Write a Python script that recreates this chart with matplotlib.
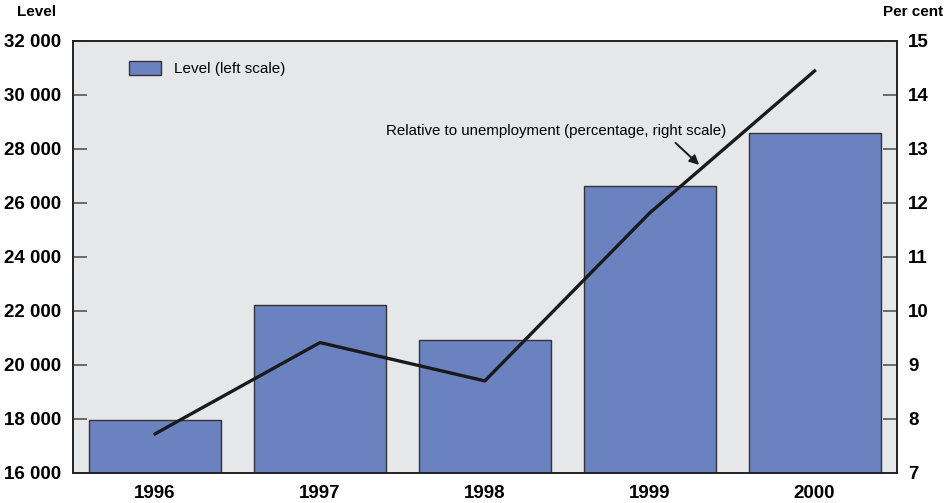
import matplotlib.pyplot as plt
from matplotlib import font_manager

years = ['1996', '1997', '1998', '1999', '2000']
level = [17950, 22200, 20930, 26620, 28590]
pct_unemployment = [7.72, 9.41, 8.70, 11.81, 14.44]

left_ticks = list(range(16000, 32001, 2000))
left_labels = ['{:,}'.format(v).replace(',', ' ') for v in left_ticks]
right_ticks = list(range(7, 16))

# narrow face for tick labels if available
names = {f.name for f in font_manager.fontManager.ttflist}
narrow = 'Liberation Sans Narrow' if 'Liberation Sans Narrow' in names else 'Liberation Sans'
plt.rcParams['font.family'] = 'Liberation Sans'

bar_color = '#6a82bf'
bg_color = '#e6e7e8'

fig = plt.figure(figsize=(9.5, 5.03), dpi=100)
ax = fig.add_axes([0.0765, 0.0602, 0.8677, 0.8589])
ax.set_facecolor(bg_color)

x = range(len(years))
ax.bar(x, level, width=0.8, bottom=0, color=bar_color, edgecolor='#333333',
       linewidth=1.0, label='Level (left scale)', zorder=2)
ax.set_xlim(-0.5, 4.5)
ax.set_ylim(16000, 32000)
ax.set_yticks(left_ticks)
ax.set_yticklabels(left_labels)
ax.set_xticks(list(x))
ax.set_xticklabels(years)

ax2 = ax.twinx()
ax2.plot(list(x), pct_unemployment, color='#1a1a1a', linewidth=2.4, zorder=3)
ax2.set_ylim(7, 15)
ax2.set_yticks(right_ticks)

for a in (ax, ax2):
    for s in a.spines.values():
        s.set_color('#222222')
        s.set_linewidth(1.2)

ax.tick_params(axis='y', direction='in', length=10, width=1.2, color='#555555', pad=8,
               labelsize=13.5)
ax.tick_params(axis='x', length=0, pad=9, labelsize=13.5)
ax2.tick_params(axis='y', direction='in', length=10, width=1.2, color='#555555', pad=8,
                labelsize=13.5)
for lab in ax.get_yticklabels() + ax.get_xticklabels() + ax2.get_yticklabels():
    lab.set_fontfamily(narrow)
    lab.set_fontweight('bold')

fig.text(0.018, 0.962, 'Level', fontsize=11, fontweight='bold', ha='left', va='bottom')
fig.text(0.993, 0.962, 'Per cent', fontsize=11, fontweight='bold', ha='right', va='bottom')

ax.legend(loc='upper left', bbox_to_anchor=(0.052, 0.985), frameon=False, fontsize=11,
          handlelength=2.1, handleheight=1.0, handletextpad=0.8)

# label for the line, with a short arrow pointing at it
ax2.text(2.435, 13.2, 'Relative to unemployment (percentage, right scale)',
         fontsize=10.8, ha='center', va='bottom')
ax2.annotate('', xy=(3.30, 12.70), xytext=(3.156, 13.11),
             arrowprops=dict(arrowstyle='-|>', color='#1a1a1a', lw=1.4,
                             mutation_scale=14, shrinkA=0, shrinkB=0))

plt.savefig('out.png', dpi=100)
